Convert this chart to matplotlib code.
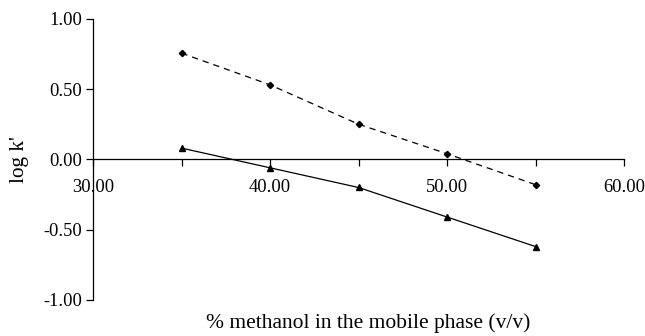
import matplotlib
matplotlib.use("Agg")
import matplotlib.pyplot as plt
from matplotlib.ticker import MultipleLocator, FuncFormatter

methanol = [35, 40, 45, 50, 55]
logk_diamond = [0.755, 0.53, 0.25, 0.04, -0.18]
logk_triangle = [0.08, -0.06, -0.20, -0.41, -0.62]

plt.rcParams["font.family"] = ["Liberation Serif", "DejaVu Serif"]

fig = plt.figure(figsize=(6.45, 3.36), dpi=100)
ax = fig.add_axes([93 / 645, 1 - 300 / 336, (624 - 93) / 645, (300 - 18.7) / 336])

ax.plot(methanol, logk_diamond, color="black", lw=0.9, ls=(0, (5, 4)),
        marker="D", ms=3.2, mfc="black", mec="black", clip_on=False)
ax.plot(methanol, logk_triangle, color="black", lw=0.9, ls="-",
        marker="^", ms=5, mfc="black", mec="black", clip_on=False)

ax.set_xlim(30, 60)
ax.set_ylim(-1, 1)

ax.spines["top"].set_visible(False)
ax.spines["right"].set_visible(False)
ax.spines["left"].set_position(("data", 30))
ax.spines["bottom"].set_position(("data", 0))
for s in ("left", "bottom"):
    ax.spines[s].set_linewidth(0.9)

# ticks every 5 %, labels only on the tens
ax.xaxis.set_major_locator(MultipleLocator(5))
ax.xaxis.set_major_formatter(
    FuncFormatter(lambda v, p: f"{v:.2f}" if round(v) % 10 == 0 else ""))
ax.yaxis.set_major_locator(MultipleLocator(0.5))
ax.yaxis.set_major_formatter(FuncFormatter(lambda v, p: f"{v:.2f}"))

ax.tick_params(axis="x", direction="out", length=5, width=0.9, pad=9, labelsize=13.3)
ax.tick_params(axis="y", direction="out", length=5, width=0.9, pad=3, labelsize=13.3)

ax.set_ylabel("log k'", fontsize=15.3, labelpad=10)
fig.text(368 / 645, 1 - 328 / 336, "% methanol in the mobile phase (v/v)",
         ha="center", va="baseline", fontsize=15.5)

fig.savefig("out.png", dpi=100, facecolor="white")
